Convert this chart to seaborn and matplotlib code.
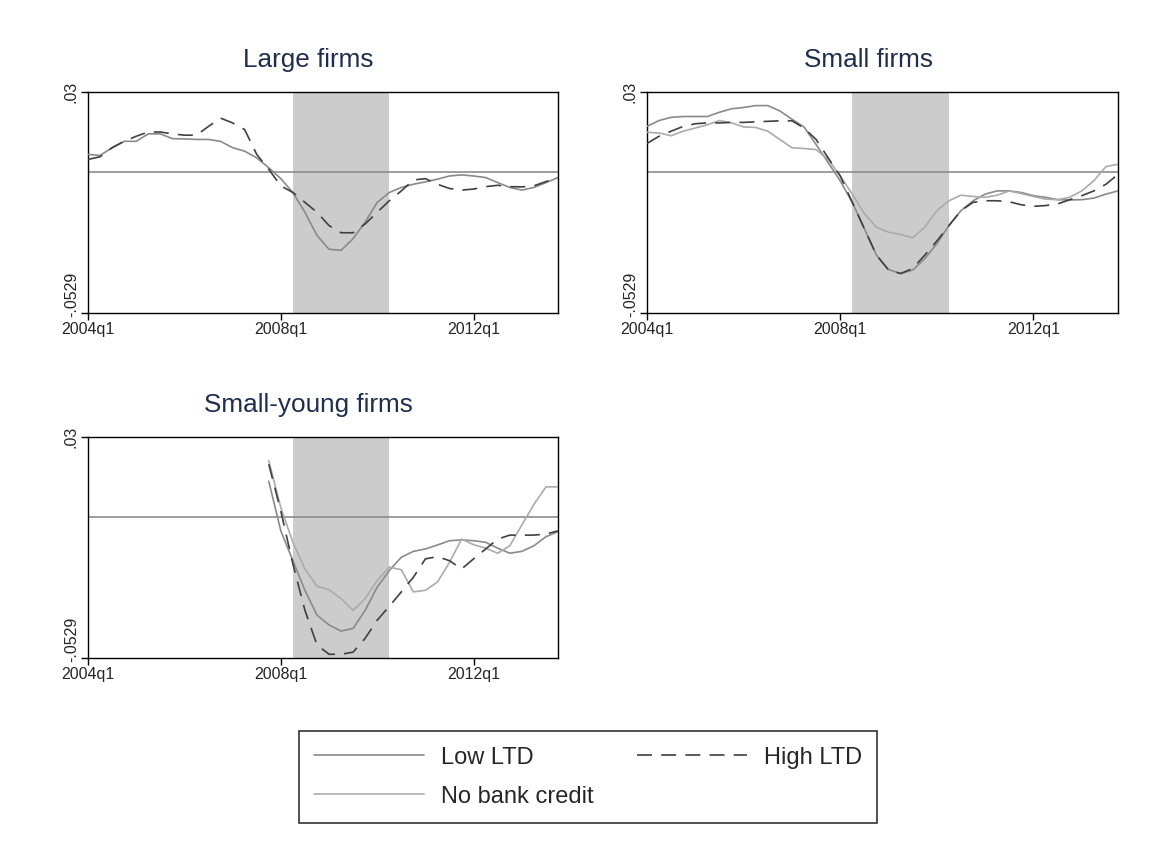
import numpy as np
import matplotlib
matplotlib.use("Agg")
import matplotlib.pyplot as plt
import matplotlib.transforms as mtransforms
import seaborn as sns

# ---------------- data ----------------
quarters = list(range(40))  # 0 = 2004q1 ... 39 = 2013q4
tick_pos = [0, 16, 32]
tick_labels = ["2004q1", "2008q1", "2012q1"]
y_ticks = [0.03, -0.0529]
y_tick_labels = [".03", "-.0529"]
recession = (17, 25)
series_names = ["Low LTD", "High LTD", "No bank credit"]
panel_titles = ["Large firms", "Small firms", "Small-young firms"]

large_low = [0.0066, 0.0062, 0.0091, 0.0115, 0.0115, 0.0143, 0.0143, 0.0125, 0.0124, 0.0122,
             0.0122, 0.0115, 0.0091, 0.0078, 0.0053, 0.0016, -0.0025, -0.0077, -0.0151, -0.0238,
             -0.0290, -0.0294, -0.0250, -0.0188, -0.0114, -0.0077, -0.0058, -0.0046, -0.0037, -0.0027,
             -0.0015, -0.0011, -0.0015, -0.0021, -0.0040, -0.0058, -0.0068, -0.0058, -0.0040, -0.0021]
large_high = [0.0047, 0.0057, 0.0091, 0.0115, 0.0134, 0.0150, 0.0150, 0.0143, 0.0138, 0.0138,
              0.0171, 0.0202, 0.0184, 0.0159, 0.0066, 0.0010, -0.0052, -0.0077, -0.0114, -0.0151,
              -0.0201, -0.0228, -0.0228, -0.0195, -0.0151, -0.0108, -0.0071, -0.0030, -0.0025, -0.0046,
              -0.0062, -0.0068, -0.0064, -0.0055, -0.0050, -0.0055, -0.0056, -0.0052, -0.0036, -0.0021]

small_low = [0.0171, 0.0193, 0.0205, 0.0208, 0.0208, 0.0208, 0.0224, 0.0237, 0.0242, 0.0249,
             0.0249, 0.0229, 0.0198, 0.0169, 0.0103, 0.0035, -0.0033, -0.0114, -0.0213, -0.0312,
             -0.0366, -0.0381, -0.0368, -0.0325, -0.0269, -0.0201, -0.0145, -0.0108, -0.0083, -0.0071,
             -0.0071, -0.0077, -0.0089, -0.0095, -0.0104, -0.0105, -0.0104, -0.0098, -0.0083, -0.0071]
small_high = [0.0107, 0.0134, 0.0153, 0.0171, 0.0181, 0.0184, 0.0184, 0.0186, 0.0186, 0.0188,
              0.0190, 0.0192, 0.0192, 0.0165, 0.0122, 0.0053, -0.0015, -0.0114, -0.0213, -0.0312,
              -0.0368, -0.0381, -0.0362, -0.0312, -0.0259, -0.0201, -0.0145, -0.0114, -0.0108, -0.0108,
              -0.0112, -0.0123, -0.0129, -0.0126, -0.0120, -0.0104, -0.0089, -0.0071, -0.0046, -0.0009]
small_nobank = [0.0149, 0.0146, 0.0136, 0.0153, 0.0165, 0.0177, 0.0193, 0.0184, 0.0169, 0.0167,
                0.0153, 0.0122, 0.0091, 0.0088, 0.0084, 0.0047, -0.0015, -0.0083, -0.0157, -0.0207,
                -0.0226, -0.0234, -0.0247, -0.0207, -0.0145, -0.0108, -0.0087, -0.0092, -0.0095, -0.0087,
                -0.0071, -0.0081, -0.0092, -0.0102, -0.0104, -0.0095, -0.0071, -0.0033, 0.0020, 0.0029]

sy_low = [np.nan] * 15 + [0.0134, -0.0052, -0.0164, -0.0275, -0.0368, -0.0405, -0.0428, -0.0418, -0.0350, -0.0263,
                          -0.0201, -0.0151, -0.0129, -0.0120, -0.0105, -0.0089, -0.0086, -0.0089, -0.0095, -0.0117,
                          -0.0136, -0.0129, -0.0108, -0.0074, -0.0055]
sy_high = [np.nan] * 15 + [0.0198, 0.0022, -0.0176, -0.0350, -0.0480, -0.0515, -0.0515, -0.0507, -0.0455, -0.0387,
                           -0.0335, -0.0281, -0.0226, -0.0157, -0.0149, -0.0164, -0.0195, -0.0157, -0.0120, -0.0083,
                           -0.0068, -0.0068, -0.0068, -0.0064, -0.0052]
sy_nobank = [np.nan] * 15 + [0.0211, 0.0035, -0.0095, -0.0195, -0.0260, -0.0273, -0.0306, -0.0350, -0.0306, -0.0238,
                             -0.0188, -0.0198, -0.0281, -0.0275, -0.0244, -0.0170, -0.0083, -0.0104, -0.0117, -0.0136,
                             -0.0108, -0.0030, 0.0047, 0.0113, 0.0113]

panels = [
    {"Low LTD": large_low, "High LTD": large_high},
    {"Low LTD": small_low, "High LTD": small_high, "No bank credit": small_nobank},
    {"Low LTD": sy_low, "High LTD": sy_high, "No bank credit": sy_nobank},
]

# ---------------- style ----------------
sns.set_theme(style="white")
plt.rcParams["font.family"] = ["Liberation Sans", "DejaVu Sans"]

styles = {
    "Low LTD": dict(color="#8a8a8a", linestyle="-", lw=1.2),
    "High LTD": dict(color="#404040", linestyle=(0, (9, 5.5)), lw=1.2),
    "No bank credit": dict(color="#ababab", linestyle="-", lw=1.2),
}

fig = plt.figure(figsize=(11.56, 8.46), dpi=100)
W, H = 1156, 846
boxes = [(88, 92, 558, 313), (647, 92, 1118, 313), (88, 437, 558, 658)]
title_pos = [(308, 60), (868, 60), (308, 405)]

handles = {}
for i, (box, data) in enumerate(zip(boxes, panels)):
    x0, y0, x1, y1 = box
    ax = fig.add_axes([x0 / W, 1 - y1 / H, (x1 - x0) / W, (y1 - y0) / H])
    ax.axvspan(recession[0], recession[1], color="#cccccc", lw=0, zorder=0)
    ax.axhline(0, color="#8c8c8c", lw=1.2, zorder=1)
    for name in ["Low LTD", "No bank credit", "High LTD"]:
        if name not in data:
            continue
        st = styles[name]
        sns.lineplot(x=quarters, y=np.array(data[name], dtype=float), ax=ax,
                     color=st["color"], lw=st["lw"], zorder=3)
        ln = ax.get_lines()[-1]
        ln.set_linestyle(st["linestyle"])
        handles[name] = ln
    ax.set_xlim(0, 39)
    ax.set_ylim(-0.0529, 0.03)
    ax.set_xticks(tick_pos)
    ax.set_xticklabels(tick_labels, fontsize=11.5)
    ax.set_yticks(y_ticks)
    ax.set_yticklabels(y_tick_labels, rotation=90, va="center", fontsize=11.5)
    ax.tick_params(axis="both", which="both", direction="out", length=5, width=1,
                   color="black", pad=1.5, left=True, bottom=True)
    # bottom y label: sit it just above the x tick labels so the two do not collide
    ylbls = ax.get_yticklabels()
    ylbls[1].set_verticalalignment("bottom")
    ylbls[1].set_transform(ylbls[1].get_transform() +
                           mtransforms.ScaledTranslation(0, -3 / 72, fig.dpi_scale_trans))
    for sp in ax.spines.values():
        sp.set_color("black")
        sp.set_linewidth(1.0)
    ax.set_xlabel("")
    ax.set_ylabel("")
    tx, ty = title_pos[i]
    fig.text(tx / W, 1 - ty / H, panel_titles[i], ha="center", va="center",
             fontsize=18.8, color="#1e2d50")

leg_handles = [handles["Low LTD"], handles["No bank credit"], handles["High LTD"]]
leg_labels = ["Low LTD", "No bank credit", "High LTD"]
leg = fig.legend(leg_handles, leg_labels, ncol=2, loc="lower left",
                 bbox_to_anchor=(299 / W, 1 - 823 / H, 578 / W, 94 / H), mode="expand",
                 frameon=True, fancybox=False, edgecolor="black", fontsize=17,
                 handlelength=4.65, handletextpad=0.72, borderaxespad=0,
                 borderpad=0.65, labelspacing=0.72, columnspacing=1.0)
leg.get_frame().set_linewidth(1.2)

fig.savefig("out.png", dpi=100, facecolor="white")
